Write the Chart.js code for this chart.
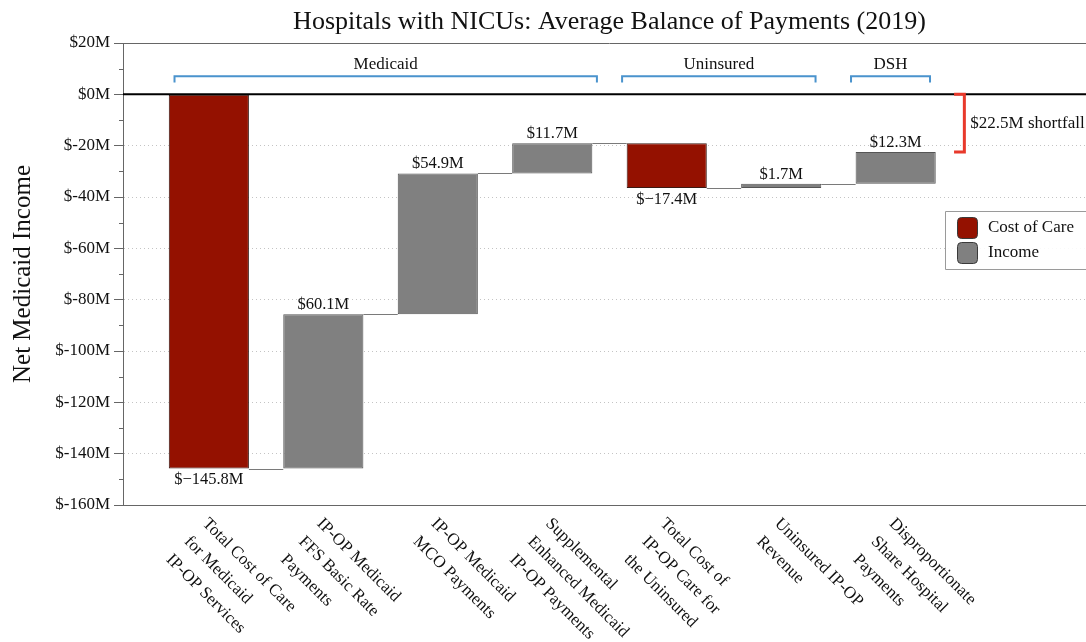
<!DOCTYPE html>
<html>
<head>
<meta charset="utf-8">
<script src="https://cdn.jsdelivr.net/npm/chart.js@4.4.1/dist/chart.umd.min.js"></script>
<style>
  html, body { margin: 0; padding: 0; background: #fff; overflow: hidden; }
  #wrap { width: 1112px; height: 642px; position: relative; }
</style>
</head>
<body>
<div id="wrap"><canvas id="chart"></canvas></div>
<script>
// Waterfall steps (USD millions)
const categories = [
  ['Total Cost of Care', 'for Medicaid', 'IP-OP Services'],
  ['IP-OP Medicaid', 'FFS Basic Rate', 'Payments'],
  ['IP-OP Medicaid', 'MCO Payments'],
  ['Supplemental', 'Enhanced Medicaid', 'IP-OP Payments'],
  ['Total Cost of', 'IP-OP Care for', 'the Uninsured'],
  ['Uninsured IP-OP', 'Revenue'],
  ['Disproportionate', 'Share Hospital', 'Payments']
];
const changes = [-145.8, 60.1, 54.9, 11.7, -17.4, 1.7, 12.3];
const seriesNames = ['Cost of Care', 'Income'];

// Payer groups spanning the steps
const groupNames = ['Medicaid', 'Uninsured', 'DSH'];
const groupFirst = [0, 4, 6];
const groupLast = [3, 5, 6];

// Axis ticks
const yTickValues = [20, 0, -20, -40, -60, -80, -100, -120, -140, -160];
const yMinorTickValues = [10, -10, -30, -50, -70, -90, -110, -130, -150];
const yTickLabels = ['$20M', '$0M', '$-20M', '$-40M', '$-60M', '$-80M', '$-100M', '$-120M', '$-140M', '$-160M'];

const FONT = '"Liberation Serif", "DejaVu Serif", serif';
const COST_COLOR = '#941100';
const INCOME_COLOR = '#808080';

// running totals
const starts = [], ends = [];
let running = 0;
changes.forEach(d => {
  starts.push(running);
  running = Math.round((running + d) * 10) / 10;
  ends.push(running);
});
const finalBalance = running;

function money(v) {
  const s = Math.abs(v).toFixed(1);
  return v < 0 ? '$\u2212' + s + 'M' : '$' + s + 'M';
}

const extras = {
  id: 'waterfallExtras',
  beforeDatasetsDraw(chart) {
    const { ctx, scales: { y } } = chart;
    const bars = chart.getDatasetMeta(0).data;
    // connectors between consecutive steps
    ctx.save();
    ctx.strokeStyle = '#7a7a7a';
    ctx.lineWidth = 1;
    for (let i = 0; i < bars.length - 1; i++) {
      const yy = Math.round(y.getPixelForValue(ends[i])) + 0.5;
      ctx.beginPath();
      ctx.moveTo(bars[i].x + bars[i].width / 2, yy);
      ctx.lineTo(bars[i + 1].x - bars[i + 1].width / 2, yy);
      ctx.stroke();
    }
    ctx.restore();
  },
  afterDatasetsDraw(chart) {
    const { ctx, chartArea: a, scales: { x, y } } = chart;
    const bars = chart.getDatasetMeta(0).data;
    ctx.save();

    // top frame line
    ctx.strokeStyle = '#666';
    ctx.lineWidth = 1;
    ctx.beginPath();
    ctx.moveTo(a.left, a.top + 0.5);
    ctx.lineTo(a.right, a.top + 0.5);
    ctx.stroke();

    // minor ticks on the value axis
    yMinorTickValues.forEach(v => {
      const yy = Math.round(y.getPixelForValue(v)) + 0.5;
      ctx.beginPath();
      ctx.moveTo(a.left - 4, yy);
      ctx.lineTo(a.left, yy);
      ctx.stroke();
    });

    // zero line
    const y0 = y.getPixelForValue(0);
    ctx.strokeStyle = '#000';
    ctx.lineWidth = 2;
    ctx.beginPath();
    ctx.moveTo(a.left, y0);
    ctx.lineTo(a.right, y0);
    ctx.stroke();

    // value labels
    ctx.fillStyle = '#111';
    ctx.font = '16.5px ' + FONT;
    ctx.textAlign = 'center';
    bars.forEach((b, i) => {
      const d = changes[i];
      if (d >= 0) {
        ctx.textBaseline = 'bottom';
        ctx.fillText(money(d), b.x, y.getPixelForValue(ends[i]) - 1);
      } else {
        ctx.textBaseline = 'top';
        ctx.fillText(money(d), b.x, y.getPixelForValue(ends[i]) + 3);
      }
    });

    // group brackets
    const pads = [[0.30, 0.39], [0.39, 0.30], [0.39, 0.30]];
    ctx.strokeStyle = '#4a93cd';
    ctx.lineWidth = 2;
    ctx.font = '17px ' + FONT;
    ctx.textBaseline = 'middle';
    groupNames.forEach((g, k) => {
      const x1 = x.getPixelForValue(groupFirst[k] - pads[k][0]);
      const x2 = x.getPixelForValue(groupLast[k] + pads[k][1]);
      const yb = y.getPixelForValue(7);
      const yt = y.getPixelForValue(4.6);
      ctx.beginPath();
      ctx.moveTo(x1, yt);
      ctx.lineTo(x1, yb);
      ctx.lineTo(x2, yb);
      ctx.lineTo(x2, yt);
      ctx.stroke();
      ctx.fillStyle = '#111';
      ctx.fillText(g, (x1 + x2) / 2, y.getPixelForValue(11.6));
    });

    // shortfall bracket
    const last = changes.length - 1;
    const sx = x.getPixelForValue(last + 0.6);
    const sxl = x.getPixelForValue(last + 0.51);
    const sTop = y.getPixelForValue(0);
    const sBot = y.getPixelForValue(finalBalance);
    ctx.strokeStyle = '#e8392b';
    ctx.lineWidth = 3;
    ctx.lineJoin = 'miter';
    ctx.beginPath();
    ctx.moveTo(sxl, sTop);
    ctx.lineTo(sx, sTop);
    ctx.lineTo(sx, sBot);
    ctx.lineTo(sxl, sBot);
    ctx.stroke();
    ctx.fillStyle = '#111';
    ctx.textAlign = 'left';
    ctx.fillText('$' + Math.abs(finalBalance).toFixed(1) + 'M shortfall', sx + 6, (sTop + sBot) / 2);

    // legend
    const lx = a.right - 151, ly = a.top + 168;
    ctx.fillStyle = 'rgba(255,255,255,0.9)';
    ctx.strokeStyle = '#9a9a9a';
    ctx.lineWidth = 1;
    ctx.beginPath();
    ctx.rect(lx + 0.5, ly + 0.5, 220, 58);
    ctx.fill();
    ctx.stroke();
    [COST_COLOR, INCOME_COLOR].forEach((c, k) => {
      ctx.fillStyle = c;
      ctx.strokeStyle = '#3a3a3a';
      ctx.beginPath();
      ctx.roundRect(lx + 12.5, ly + 6.5 + k * 25, 20, 21, 4);
      ctx.fill();
      ctx.stroke();
      ctx.fillStyle = '#111';
      ctx.font = '17px ' + FONT;
      ctx.textAlign = 'left';
      ctx.textBaseline = 'middle';
      ctx.fillText(seriesNames[k], lx + 43, ly + 17 + k * 25);
    });

    // category labels, slanted down to the right
    ctx.fillStyle = '#111';
    ctx.font = '17px ' + FONT;
    ctx.textAlign = 'left';
    ctx.textBaseline = 'top';
    categories.forEach((lines, i) => {
      ctx.save();
      ctx.translate(x.getPixelForValue(i) + 2, a.bottom + 10);
      ctx.rotate(Math.PI / 4);
      lines.forEach((t, k) => ctx.fillText(t, 0, k * 25.5));
      ctx.restore();
    });

    // title
    ctx.font = '26px ' + FONT;
    ctx.textAlign = 'center';
    ctx.textBaseline = 'middle';
    ctx.fillText('Hospitals with NICUs: Average Balance of Payments (2019)', (a.left + a.right) / 2, 22);

    ctx.restore();
  }
};

new Chart(document.getElementById('chart'), {
  type: 'bar',
  data: {
    datasets: [{
      data: changes.map((d, i) => ({ x: i, y: [starts[i], ends[i]] })),
      backgroundColor: changes.map(d => d < 0 ? COST_COLOR : INCOME_COLOR),
      borderColor: changes.map(d => d < 0 ? '#3a1a14' : '#555'),
      borderWidth: 1,
      borderSkipped: false,
      barPercentage: 0.7,
      categoryPercentage: 1.0
    }]
  },
  options: {
    responsive: true,
    maintainAspectRatio: false,
    animation: false,
    layout: { padding: { left: 0, right: 16, top: 43, bottom: 0 } },
    plugins: {
      legend: { display: false },
      title: { display: false },
      tooltip: { enabled: false }
    },
    scales: {
      x: {
        type: 'linear',
        min: -0.75,
        max: 7.75,
        offset: false,
        afterBuildTicks(s) { s.ticks = categories.map((c, i) => ({ value: i })); },
        grid: { display: false, drawTicks: false },
        ticks: { display: false },
        border: { display: true, color: '#666', width: 1 },
        afterFit(s) { s.height = 137; }
      },
      y: {
        min: -160,
        max: 20,
        afterBuildTicks(s) { s.ticks = yTickValues.map(v => ({ value: v })); },
        ticks: {
          callback: (v) => yTickLabels[yTickValues.indexOf(v)],
          color: '#111',
          font: { family: FONT, size: 17 },
          padding: 4
        },
        grid: {
          color: (c) => (c.tick && (c.tick.value === 0 || c.tick.value === 20 || c.tick.value === -160)) ? 'rgba(0,0,0,0)' : '#c4c4c4',
          tickColor: '#666',
          tickLength: 9,
          lineWidth: 1
        },
        border: { display: true, color: '#666', width: 1, dash: [1, 3] },
        title: {
          display: true,
          text: 'Net Medicaid Income',
          color: '#111',
          font: { family: FONT, size: 25 },
          padding: { top: 8, bottom: 0 }
        },
        afterFit(s) { s.width = 123; }
      }
    }
  },
  plugins: [extras]
});
</script>
</body>
</html>
